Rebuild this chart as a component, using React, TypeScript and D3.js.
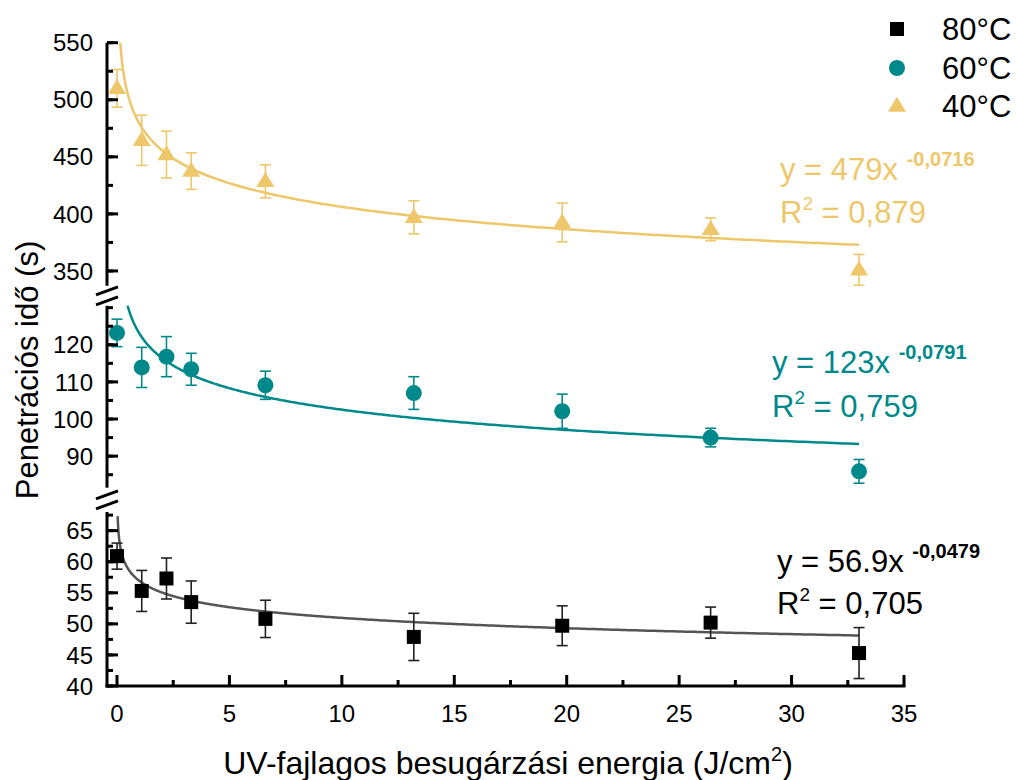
import React from "react";
import * as d3 from "d3";

// ---- Data ----
const energies = [0, 1.1, 2.2, 3.3, 6.6, 13.2, 19.8, 26.4, 33];
const t80 = [60.9, 55.3, 57.3, 53.5, 50.8, 47.9, 49.7, 50.2, 45.3];
const e80 = [2.1, 3.3, 3.3, 3.4, 3.0, 3.8, 3.2, 2.5, 4.1];
const t60 = [123.2, 113.9, 116.8, 113.4, 109.1, 107.0, 102.1, 95.0, 85.9];
const e60 = [3.7, 5.4, 5.4, 4.3, 3.8, 4.4, 4.6, 2.5, 3.2];
const t40 = [510, 464.5, 452, 437.5, 428.5, 397, 392.5, 386.5, 351];
const e40 = [16.5, 22, 20.5, 16, 14.5, 14.5, 17, 10, 13.5];
const seriesNames = ["80°C", "60°C", "40°C"];
const fitA = [56.9, 123, 479];
const fitB = [-0.0479, -0.0791, -0.0716];
const fitA_label = ["56.9", "123", "479"];
const fitB_label = ["-0,0479", "-0,0791", "-0,0716"];
const r2Label = ["0,705", "0,759", "0,879"];
const xTicks = [0, 5, 10, 15, 20, 25, 30, 35];
const yTicksTop = [350, 400, 450, 500, 550];
const yTicksMid = [90, 100, 110, 120];
const yTicksBot = [40, 45, 50, 55, 60, 65];

const COLORS = ["#000000", "#00898A", "#EEC76B"];
const FIT_COLORS = ["#555555", "#00898A", "#EEC76B"];
const FONT = "'Liberation Sans', Arial, sans-serif";

export default function App() {
  const x = d3.scaleLinear().domain([0, 35]).range([117, 904]);
  const axisX = 107;
  const axisY = 686;

  const yBot = d3.scaleLinear().domain([40, 68]).range([686, 512]);
  const yMid = d3.scaleLinear().domain([81.5, 130.5]).range([487.7, 305.8]);
  const yTop = d3.scaleLinear().domain([337, 550]).range([285.8, 42.7]);
  const scales = [yBot, yMid, yTop];
  const values = [t80, t60, t40];
  const errs = [e80, e60, e40];
  const majorTicks = [yTicksBot, yTicksMid, yTicksTop];
  const minorStep = [2.5, 5, 25];

  const fitXs = d3.range(0, 1001).map((i) => 0.03 * Math.pow(33 / 0.03, i / 1000));

  const marker = (s: number, cx: number, cy: number, key: any, fill: string) => {
    if (s === 0) return <rect key={key} x={cx - 7} y={cy - 7} width={14} height={14} fill={fill} />;
    if (s === 1) return <circle key={key} cx={cx} cy={cy} r={8} fill={fill} />;
    const h = 15, w = 18;
    return (
      <path
        key={key}
        d={`M${cx},${cy - h * 0.62} L${cx + w / 2},${cy + h * 0.38} L${cx - w / 2},${cy + h * 0.38} Z`}
        fill={fill}
      />
    );
  };

  const eqPos = [
    { x: 777, y1: 572, y2: 614 },
    { x: 772, y1: 373, y2: 417 },
    { x: 780, y1: 180, y2: 223 },
  ];
  const legendY = [29, 68, 106];

  const breakYs = [(yTop.range()[0] + yMid.range()[1]) / 2, (yMid.range()[0] + yBot.range()[1]) / 2];

  return (
    <svg
      width={1016}
      height={780}
      style={{ position: "absolute", left: 0, top: 0, background: "#fff" }}
      fontFamily={FONT}
    >
      <defs>
        {scales.map((s, i) => (
          <clipPath id={`clip${i}`} key={i}>
            <rect x={axisX} y={s.range()[1]} width={904 - axisX} height={s.range()[0] - s.range()[1]} />
          </clipPath>
        ))}
      </defs>

      {/* Fit curves */}
      {scales.map((s, i) => {
        const line = d3
          .line<number>()
          .x((d) => x(d))
          .y((d) => s(fitA[i] * Math.pow(d, fitB[i])));
        return (
          <path
            key={`fit${i}`}
            d={line(fitXs) || ""}
            fill="none"
            stroke={FIT_COLORS[i]}
            strokeWidth={2.5}
            clipPath={`url(#clip${i})`}
          />
        );
      })}

      {/* Error bars */}
      {scales.map((s, i) =>
        energies.map((e, j) => {
          const cx = x(e);
          const top = s(values[i][j] + errs[i][j]);
          const bot = s(values[i][j] - errs[i][j]);
          const c = i === 0 ? "#222" : COLORS[i];
          return (
            <g key={`eb${i}-${j}`} stroke={c} strokeWidth={1.6}>
              <line x1={cx} x2={cx} y1={top} y2={bot} />
              <line x1={cx - 5.5} x2={cx + 5.5} y1={top} y2={top} />
              <line x1={cx - 5.5} x2={cx + 5.5} y1={bot} y2={bot} />
            </g>
          );
        })
      )}

      {/* Markers */}
      {scales.map((s, i) => energies.map((e, j) => marker(i, x(e), s(values[i][j]), `m${i}-${j}`, COLORS[i])))}

      {/* Y axis segments */}
      {scales.map((s, i) => {
        const [d0, d1] = s.domain();
        const minors = d3.range(Math.ceil(d0 / minorStep[i]) * minorStep[i], d1 + 1e-9, minorStep[i]);
        return (
          <g key={`ya${i}`}>
            <line x1={axisX} x2={axisX} y1={s.range()[0] + (i === 0 ? 1.5 : 0)} y2={s.range()[1]} stroke="#000" strokeWidth={3} />
            {minors.map((t) => (
              <line key={`mn${t}`} x1={axisX} x2={axisX + 6} y1={s(t)} y2={s(t)} stroke="#000" strokeWidth={3} />
            ))}
            {majorTicks[i].map((t) => (
              <g key={`mj${t}`}>
                <line x1={axisX} x2={axisX + 11} y1={s(t)} y2={s(t)} stroke="#000" strokeWidth={3} />
                <text x={axisX - 14} y={s(t)} dy="0.36em" textAnchor="end" fontSize={24} fill="#000">
                  {t}
                </text>
              </g>
            ))}
          </g>
        );
      })}

      {/* Axis breaks */}
      {breakYs.map((by, k) => (
        <g key={`br${k}`} stroke="#000" strokeWidth={3}>
          <line x1={axisX - 11} x2={axisX + 11} y1={by - 1} y2={by - 9} />
          <line x1={axisX - 11} x2={axisX + 11} y1={by + 9} y2={by + 1} />
        </g>
      ))}

      {/* X axis */}
      <line x1={axisX - 1.5} x2={905.5} y1={axisY} y2={axisY} stroke="#000" strokeWidth={3} />
      {d3.range(2.5, 35, 5).map((t) => (
        <line key={`xm${t}`} x1={x(t)} x2={x(t)} y1={axisY} y2={axisY - 6} stroke="#000" strokeWidth={3} />
      ))}
      {xTicks.map((t) => (
        <g key={`xt${t}`}>
          <line x1={x(t)} x2={x(t)} y1={axisY} y2={axisY - 11} stroke="#000" strokeWidth={3} />
          <text x={x(t)} y={722} textAnchor="middle" fontSize={24} fill="#000">
            {t}
          </text>
        </g>
      ))}

      {/* Axis titles */}
      <text x={508} y={774} textAnchor="middle" fontSize={32} fill="#000">
        UV-fajlagos besugárzási energia (J/cm
        <tspan fontSize={20} dy={-13}>2</tspan>
        <tspan dy={13}>)</tspan>
      </text>
      <text
        transform={`translate(38, 370) rotate(-90)`}
        textAnchor="middle"
        fontSize={31}
        fill="#000"
      >
        Penetrációs idő (s)
      </text>

      {/* Equations */}
      {eqPos.map((p, i) => (
        <g key={`eq${i}`} fill={i === 0 ? "#000" : COLORS[i]}>
          <text x={p.x} y={p.y1} fontSize={31}>
            {`y = ${fitA_label[i]}x `}
            <tspan fontSize={20} fontWeight="bold" dy={-14}>
              {fitB_label[i]}
            </tspan>
          </text>
          <text x={p.x} y={p.y2} fontSize={31}>
            R<tspan fontSize={19} dy={-13}>2</tspan>
            <tspan dy={13}>{` = ${r2Label[i]}`}</tspan>
          </text>
        </g>
      ))}

      {/* Legend */}
      {seriesNames.map((n, i) => (
        <g key={`lg${i}`}>
          {marker(i, 897, legendY[i], `lgm${i}`, COLORS[i])}
          <text x={942} y={legendY[i]} dy="0.36em" fontSize={31} fill="#000">
            {n}
          </text>
        </g>
      ))}
    </svg>
  );
}
